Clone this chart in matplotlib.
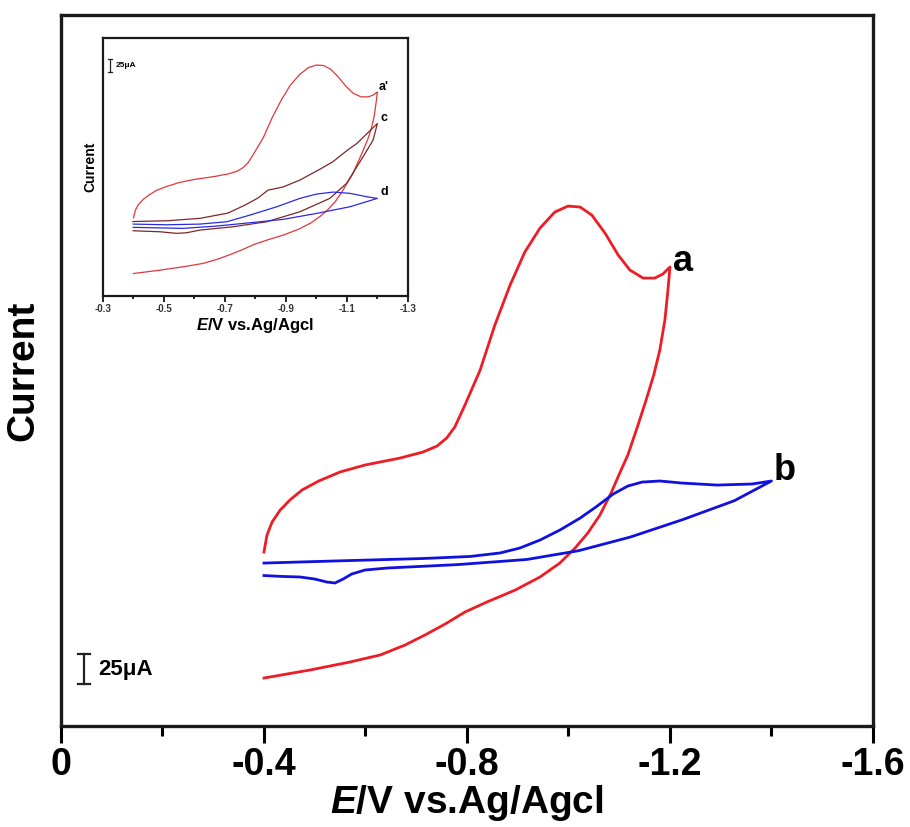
import numpy as np
import matplotlib
matplotlib.use("Agg")
import matplotlib.pyplot as plt
from matplotlib.ticker import MultipleLocator

plt.rcParams['font.family'] = ['Liberation Sans', 'DejaVu Sans']
plt.rcParams['font.weight'] = 'bold'
plt.rcParams['axes.unicode_minus'] = False
plt.rcParams['mathtext.fontset'] = 'custom'
plt.rcParams['mathtext.it'] = 'Liberation Sans:bold:italic'
plt.rcParams['mathtext.rm'] = 'Liberation Sans:bold'

# curve a (main) / a' (inset): potential in V, current in uA (arbitrary offset)
a_fwd_E = [-0.400, -0.406, -0.416, -0.432, -0.451, -0.475, -0.508, -0.550, -0.599, -0.668,
           -0.713, -0.741, -0.760, -0.776, -0.796, -0.826, -0.855, -0.885, -0.914, -0.944,
           -0.973, -0.999, -1.023, -1.046, -1.072, -1.098, -1.121, -1.147, -1.170, -1.186,
           -1.200]
a_fwd_I = [145.0, 159.2, 170.0, 180.0, 188.3, 196.7, 204.2, 211.7, 217.5, 223.3,
           228.3, 233.3, 240.0, 249.2, 267.5, 296.7, 334.2, 367.5, 395.0, 415.0,
           428.3, 433.3, 432.5, 425.8, 410.8, 392.5, 380.0, 373.3, 373.3, 376.7,
           382.5]
a_rev_E = [-1.200, -1.196, -1.190, -1.180, -1.168, -1.153, -1.137, -1.117, -1.101, -1.084,
           -1.062, -1.038, -1.013, -0.983, -0.944, -0.895, -0.839, -0.796, -0.757, -0.717,
           -0.678, -0.629, -0.569, -0.491, -0.400]
a_rev_I = [382.5, 363.3, 338.3, 313.3, 292.5, 271.7, 250.8, 225.8, 210.8, 194.2,
           175.8, 160.8, 148.3, 135.8, 124.2, 113.3, 103.3, 95.0, 85.0, 75.8,
           67.5, 59.2, 53.3, 46.7, 40.0]

# curve b (main)
b_fwd_E = [-0.400, -0.536, -0.713, -0.806, -0.865, -0.904, -0.944, -0.983, -1.023, -1.054,
           -1.088, -1.117, -1.145, -1.180, -1.223, -1.293, -1.362, -1.400]
b_fwd_I = [135.8, 137.5, 139.6, 141.3, 144.2, 148.3, 155.0, 163.3, 173.3, 182.5,
           193.3, 200.0, 203.3, 204.2, 202.5, 200.8, 201.7, 204.2]
b_rev_E = [-1.400, -1.327, -1.225, -1.122, -1.020, -0.918, -0.781, -0.644, -0.599, -0.573,
           -0.556, -0.540, -0.524, -0.500, -0.471, -0.439, -0.400]
b_rev_I = [204.2, 187.8, 172.0, 157.5, 146.1, 138.8, 134.5, 131.7, 130.0, 126.7,
           122.5, 119.2, 120.0, 122.5, 124.2, 124.6, 125.4]

# curve c (inset)
c_fwd_E = [-0.398, -0.510, -0.618, -0.710, -0.766, -0.808, -0.841, -0.890, -0.946, -1.015,
           -1.054, -1.100, -1.133, -1.200]
c_fwd_I = [138.1, 139.6, 144.1, 154.1, 169.2, 182.4, 197.3, 203.2, 216.4, 237.9,
           250.9, 272.0, 285.6, 323.0]
c_rev_E = [-1.200, -1.186, -1.153, -1.099, -1.044, -0.946, -0.837, -0.727, -0.618, -0.574,
           -0.542, -0.487, -0.399]
c_rev_I = [323.0, 291.8, 260.3, 210.1, 181.8, 156.6, 137.7, 128.3, 122.0, 116.9,
           115.8, 118.8, 120.7]

# curve d (inset)
d_fwd_E = [-0.399, -0.509, -0.618, -0.706, -0.782, -0.870, -0.946, -1.001, -1.055, -1.110,
           -1.165, -1.200]
d_fwd_I = [133.3, 132.0, 133.3, 137.7, 150.3, 166.0, 181.8, 190.0, 193.7, 191.3,
           184.9, 181.8]
d_rev_E = [-1.200, -1.110, -1.001, -0.891, -0.782, -0.673, -0.563, -0.399]
d_rev_I = [181.8, 166.0, 153.5, 142.2, 135.8, 129.6, 125.2, 127.1]

main_ticks = [0, -0.4, -0.8, -1.2, -1.6]
inset_ticks = [-0.3, -0.5, -0.7, -0.9, -1.1, -1.3]

RED = '#ee1c24'
BLUE = '#1010e0'

fig = plt.figure(figsize=(9.1, 8.27), dpi=100)
ax = fig.add_axes([0.067, 0.1221, 0.8923, 0.8597])

ax.plot(a_fwd_E + a_rev_E[1:], a_fwd_I + a_rev_I[1:], color=RED, lw=2.0)
ax.plot(b_fwd_E + b_rev_E[1:], b_fwd_I + b_rev_I[1:], color=BLUE, lw=2.0)

ax.set_xlim(0, -1.6)
ax.set_ylim(0, 592.5)
ax.set_xticks(main_ticks)
ax.set_xticklabels(['0', '-0.4', '-0.8', '-1.2', '-1.6'])
ax.xaxis.set_minor_locator(MultipleLocator(0.2))
ax.set_yticks([])
ax.tick_params(axis='x', which='major', direction='out', length=12, width=2.2,
               labelsize=27, pad=3)
ax.tick_params(axis='x', which='minor', direction='out', length=7, width=2.2)
for s in ax.spines.values():
    s.set_linewidth(2.4)
    s.set_color('#1a1a1a')

ax.set_xlabel(r'$\mathit{E}$/V vs.Ag/Agcl', fontsize=28, fontweight='bold', labelpad=0)
ax.set_ylabel('Current', fontsize=28, fontweight='bold', labelpad=14)

ax.text(-1.205, 387, 'a', fontsize=26, fontweight='bold', ha='left', va='center')
ax.text(-1.405, 213, 'b', fontsize=26, fontweight='bold', ha='left', va='center')

# scale bar 25 uA
bx = -0.045
ax.plot([bx, bx], [35, 60], color='#222222', lw=1.6)
ax.plot([bx - 0.012, bx + 0.012], [35, 35], color='#222222', lw=1.6)
ax.plot([bx - 0.012, bx + 0.012], [60, 60], color='#222222', lw=1.6)
ax.text(bx - 0.028, 47.5, '25μA', fontsize=16, fontweight='bold', ha='left', va='center')

# inset
ins = fig.add_axes([0.1132, 0.642, 0.335, 0.312])
ins.plot(a_fwd_E + a_rev_E[1:], a_fwd_I + a_rev_I[1:], color='#e0383c', lw=0.9)
ins.plot(c_fwd_E + c_rev_E[1:], c_fwd_I + c_rev_I[1:], color='#7a2828', lw=0.9)
ins.plot(d_fwd_E + d_rev_E[1:], d_fwd_I + d_rev_I[1:], color='#2a2ae6', lw=0.9)
ins.set_xlim(-0.3, -1.3)
ins.set_ylim(-2.5, 484.3)
ins.set_xticks(inset_ticks)
ins.set_xticklabels(['-0.3', '-0.5', '-0.7', '-0.9', '-1.1', '-1.3'])
ins.xaxis.set_minor_locator(MultipleLocator(0.1))
ins.set_yticks([])
ins.tick_params(axis='x', which='major', direction='out', length=4, width=1.2,
                labelsize=7, labelcolor='#333333', pad=2)
ins.tick_params(axis='x', which='minor', direction='out', length=2.5, width=1.2)
for s in ins.spines.values():
    s.set_linewidth(1.6)
    s.set_color('#1a1a1a')
ins.set_xlabel(r'$\mathit{E}$/V vs.Ag/Agcl', fontsize=12, fontweight='bold', labelpad=1)
ins.set_ylabel('Current', fontsize=10, fontweight='bold', labelpad=4)
ins.text(-1.205, 392, "a'", fontsize=9, fontweight='bold', ha='left', va='center')
ins.text(-1.21, 333, 'c', fontsize=9, fontweight='bold', ha='left', va='center')
ins.text(-1.21, 194, 'd', fontsize=9, fontweight='bold', ha='left', va='center')

ix = -0.323
ins.plot([ix, ix], [420, 444], color='#222222', lw=0.9)
ins.plot([ix - 0.006, ix + 0.006], [420, 420], color='#222222', lw=0.9)
ins.plot([ix - 0.006, ix + 0.006], [444, 444], color='#222222', lw=0.9)
ins.text(ix - 0.018, 432, '25μA', fontsize=6, fontweight='bold', ha='left', va='center')

fig.savefig('out.png', dpi=100)
